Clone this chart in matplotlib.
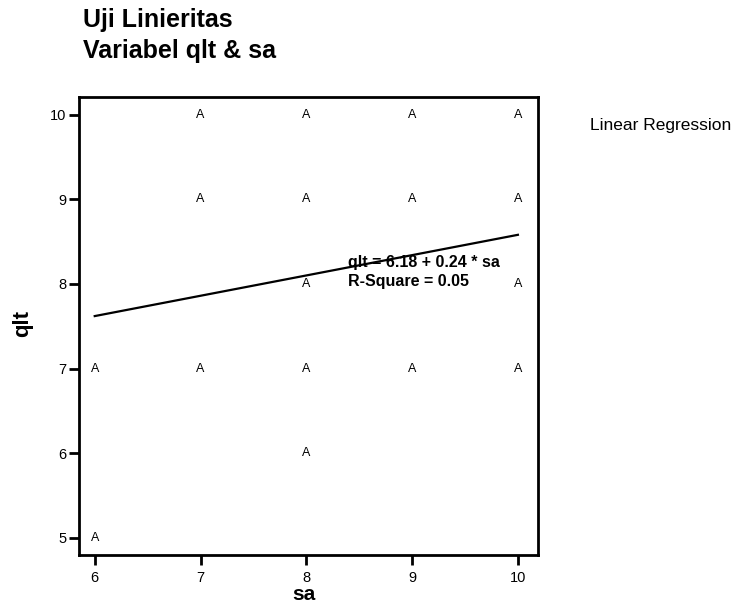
import numpy as np
import matplotlib
matplotlib.use("Agg")
import matplotlib.pyplot as plt

plt.rcParams['font.family'] = ['Liberation Sans', 'DejaVu Sans']

# observed (sa, qlt) pairs, plotted with the letter "A"
sa = [6, 6, 7, 7, 7, 8, 8, 8, 8, 8, 9, 9, 9, 10, 10, 10, 10]
qlt = [7, 5, 10, 9, 7, 10, 9, 8, 7, 6, 10, 9, 7, 10, 9, 8, 7]

# regression reported in the chart
intercept = 6.18
slope = 0.24
r_square = 0.05

x_ticks = [6, 7, 8, 9, 10]
y_ticks = [5, 6, 7, 8, 9, 10]


def main():
    fig = plt.figure(figsize=(7.37, 6.09), dpi=100)
    ax = fig.add_axes([0.107, 0.089, 0.623, 0.752])

    for x, y in zip(sa, qlt):
        ax.text(x, y, "A", ha='center', va='center', fontsize=9)

    xl = np.array([min(sa), max(sa)])
    ax.plot(xl, intercept + slope * xl, color='black', lw=1.6)

    ax.text(8.39, 8.20, "qlt = %.2f + %.2f * sa" % (intercept, slope),
            fontsize=11.5, fontweight='bold', va='baseline')
    ax.text(8.39, 7.97, "R-Square = %.2f" % r_square,
            fontsize=11.5, fontweight='bold', va='baseline')

    ax.set_xlim(5.85, 10.19)
    ax.set_ylim(4.8, 10.21)
    ax.set_xticks(x_ticks)
    ax.set_yticks(y_ticks)
    ax.tick_params(direction='out', length=7, width=2, labelsize=10.5)
    ax.tick_params(axis='x', pad=5)
    ax.tick_params(axis='y', pad=2)
    for s in ax.spines.values():
        s.set_linewidth(2)

    ax.set_xlabel("sa", fontsize=15, fontweight='bold')
    ax.xaxis.set_label_coords(0.49, -0.065)
    ax.set_ylabel("qlt", fontsize=16, fontweight='bold')
    ax.yaxis.set_label_coords(-0.10, 0.506)

    fig.text(0.1126, 1 - 27 / 609, "Uji Linieritas", fontsize=18,
             fontweight='bold', va='baseline')
    fig.text(0.1126, 1 - 58 / 609, "Variabel qlt & sa", fontsize=18,
             fontweight='bold', va='baseline')
    fig.text(590 / 737, 1 - 130 / 609, "Linear Regression", fontsize=12.5,
             va='baseline')

    fig.savefig("out.png", dpi=100)


if __name__ == "__main__":
    main()
